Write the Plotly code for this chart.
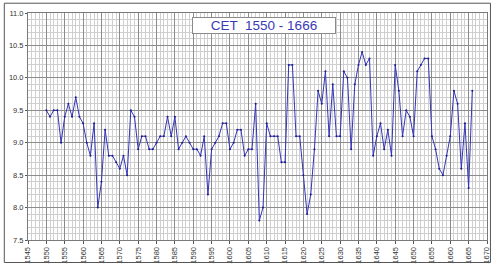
import plotly.graph_objects as go

years = list(range(1550, 1667))
cet = [
    9.5, 9.4, 9.5, 9.5, 9.0, 9.4, 9.6, 9.4, 9.7, 9.4,   # 1550-1559
    9.3, 9.0, 8.8, 9.3, 8.0, 8.4, 9.2, 8.8, 8.8, 8.7,   # 1560-1569
    8.6, 8.8, 8.5, 9.5, 9.4, 8.9, 9.1, 9.1, 8.9, 8.9,   # 1570-1579
    9.0, 9.1, 9.1, 9.4, 9.1, 9.4, 8.9, 9.0, 9.1, 9.0,   # 1580-1589
    8.9, 8.9, 8.8, 9.1, 8.2, 8.9, 9.0, 9.1, 9.3, 9.3,   # 1590-1599
    8.9, 9.0, 9.2, 9.2, 8.8, 8.9, 8.9, 9.6, 7.8, 8.0,   # 1600-1609
    9.3, 9.1, 9.1, 9.1, 8.7, 8.7, 10.2, 10.2, 9.1, 9.1, # 1610-1619
    8.5, 7.9, 8.2, 8.9, 9.8, 9.6, 10.1, 9.1, 9.9, 9.1,  # 1620-1629
    9.1, 10.1, 10.0, 8.9, 9.9, 10.2, 10.4, 10.2, 10.3, 8.8,  # 1630-1639
    9.1, 9.3, 8.9, 9.2, 8.8, 10.2, 9.8, 9.1, 9.5, 9.4,  # 1640-1649
    9.1, 10.1, 10.2, 10.3, 10.3, 9.1, 8.9, 8.6, 8.5, 8.8,  # 1650-1659
    9.1, 9.8, 9.6, 8.6, 9.3, 8.3, 9.8,                  # 1660-1666
]
title_text = "CET  1550 - 1666"

fig = go.Figure()
fig.add_trace(go.Scatter(
    x=years, y=cet, mode="lines+markers",
    line=dict(color="#3434b8", width=1),
    marker=dict(size=2, color="#1c1c90"),
    showlegend=False, hoverinfo="skip",
))

W, H = 500, 273
L, R, T, B = 26, 9, 13, 28
pw, ph = W - L - R, H - T - B

def px2paper_x(px):
    return (px - L) / pw

def px2paper_y(py):
    return (H - B - py) / ph

fig.update_layout(
    width=W, height=H,
    margin=dict(l=L, r=R, t=T, b=B, pad=0),
    paper_bgcolor="white", plot_bgcolor="white",
    font=dict(family="Arial, Liberation Sans, sans-serif", size=7.5, color="#333333"),
    xaxis=dict(
        range=[1545, 1670], dtick=5, tick0=1545, tickangle=-90,
        showgrid=True, gridcolor="#8c8c8c", gridwidth=1,
        minor=dict(dtick=1, showgrid=True, gridcolor="#cfcfcf", gridwidth=1),
        showline=True, linecolor="#7a7a7a", linewidth=1, mirror=True,
        ticks="outside", ticklen=3, tickcolor="#555555",
        zeroline=False, fixedrange=True,
    ),
    yaxis=dict(
        range=[7.5, 11.0], dtick=0.5, tick0=7.5, tickformat=".1f",
        showgrid=True, gridcolor="#8c8c8c", gridwidth=1,
        minor=dict(dtick=0.1, showgrid=True, gridcolor="#cfcfcf", gridwidth=1),
        showline=True, linecolor="#7a7a7a", linewidth=1, mirror=True,
        ticks="outside", ticklen=2, tickcolor="#555555",
        zeroline=False, fixedrange=True,
    ),
    shapes=[
        dict(type="rect", xref="paper", yref="paper",
             x0=px2paper_x(2), x1=px2paper_x(494.5),
             y0=px2paper_y(268), y1=px2paper_y(3),
             line=dict(color="#555555", width=1), fillcolor="rgba(0,0,0,0)",
             layer="above"),
    ],
    annotations=[
        dict(text=title_text, xref="paper", yref="paper",
             x=px2paper_x(265), y=px2paper_y(25.5),
             xanchor="center", yanchor="middle", showarrow=False,
             font=dict(family="Arial, Liberation Sans, sans-serif", size=13.5, color="#3a3ab8"),
             bgcolor="white", bordercolor="#8a8a8a", borderwidth=1,
             width=140, height=13, borderpad=1),
    ],
)

fig.write_html("out.html")
